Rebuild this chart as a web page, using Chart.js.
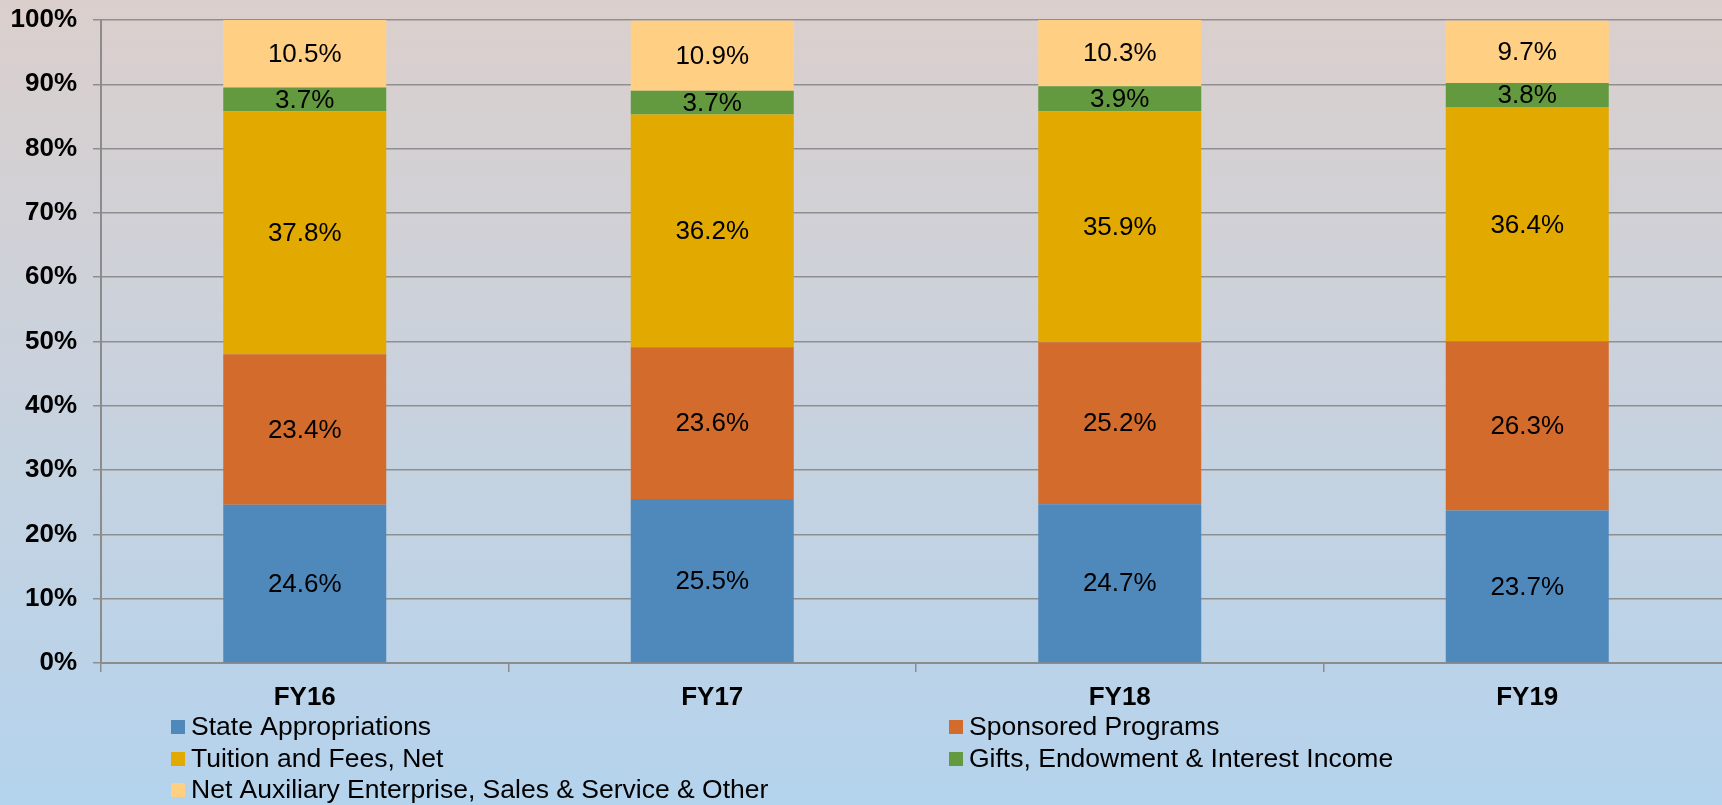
<!DOCTYPE html>
<html>
<head>
<meta charset="utf-8">
<script src="https://cdn.jsdelivr.net/npm/chart.js@4.4.1/dist/chart.umd.min.js"></script>
<style>
html,body{margin:0;padding:0;overflow:hidden;width:1722px;height:805px;background:#c8d3de;}
canvas{display:block;}
</style>
</head>
<body>
<canvas id="c" width="1731" height="805"></canvas>
<script>
const categories = ['FY16', 'FY17', 'FY18', 'FY19'];
const seriesNames = [
  'State Appropriations',
  'Sponsored Programs',
  'Tuition and Fees, Net',
  'Gifts, Endowment & Interest Income',
  'Net Auxiliary Enterprise, Sales & Service & Other'
];
const stateAppropriations = [24.6, 25.5, 24.7, 23.7];
const sponsoredPrograms   = [23.4, 23.6, 25.2, 26.3];
const tuitionFees         = [37.8, 36.2, 35.9, 36.4];
const giftsEndowment      = [3.7, 3.7, 3.9, 3.8];
const netAuxiliary        = [10.5, 10.9, 10.3, 9.7];
const yTickValues = [0, 10, 20, 30, 40, 50, 60, 70, 80, 90, 100];
const seriesColors = ['#4f88bb', '#d26b2b', '#e2a900', '#639a3f', '#ffd083'];

const FONT = '"Liberation Sans", Arial, sans-serif';

const bgPlugin = {
  id: 'bg',
  beforeDraw(chart) {
    const ctx = chart.ctx;
    const g = ctx.createLinearGradient(0, 0, 0, chart.height);
    g.addColorStop(0, '#dbcfcc');
    g.addColorStop(0.5, '#c8d2de');
    g.addColorStop(1, '#b4d3ed');
    ctx.save();
    ctx.fillStyle = g;
    ctx.fillRect(0, 0, chart.width, chart.height);
    ctx.restore();
  }
};

const labelPlugin = {
  id: 'barLabels',
  afterDatasetsDraw(chart) {
    const ctx = chart.ctx;
    ctx.save();
    ctx.font = '26px ' + FONT;
    ctx.fillStyle = '#000';
    ctx.textAlign = 'center';
    ctx.textBaseline = 'middle';
    chart.data.datasets.forEach((ds, di) => {
      const meta = chart.getDatasetMeta(di);
      meta.data.forEach((bar, i) => {
        const p = bar.getProps(['x', 'y', 'base'], true);
        ctx.fillText(ds.data[i].toFixed(1) + '%', p.x, (p.y + p.base) / 2 + 1);
      });
    });
    ctx.restore();
  }
};

const legendPlugin = {
  id: 'customLegend',
  afterDraw(chart) {
    const ctx = chart.ctx;
    const colX = [171, 949];
    const rowY = [727, 759, 790];
    ctx.save();
    ctx.font = '26.5px ' + FONT;
    ctx.textBaseline = 'middle';
    ctx.textAlign = 'left';
    chart.data.datasets.forEach((ds, i) => {
      const x = colX[i % 2];
      const y = rowY[Math.floor(i / 2)];
      ctx.fillStyle = ds.backgroundColor;
      ctx.fillRect(x, y - 7, 14, 14);
      ctx.fillStyle = '#000';
      ctx.fillText(ds.label, x + 20, y + 1);
    });
    ctx.restore();
  }
};

const seriesData = [stateAppropriations, sponsoredPrograms, tuitionFees, giftsEndowment, netAuxiliary];

new Chart(document.getElementById('c'), {
  type: 'bar',
  data: {
    labels: categories,
    datasets: seriesNames.map((name, i) => ({
      label: name,
      data: seriesData[i],
      backgroundColor: seriesColors[i],
      borderWidth: 0,
      categoryPercentage: 1.0,
      barPercentage: 0.4
    }))
  },
  options: {
    responsive: false,
    animation: false,
    devicePixelRatio: 1,
    layout: { padding: { top: 20, right: 0, left: 0, bottom: 0 } },
    plugins: {
      legend: { display: false },
      tooltip: { enabled: false },
      title: { display: false }
    },
    scales: {
      x: {
        stacked: true,
        grid: {
          display: true,
          drawOnChartArea: false,
          drawTicks: true,
          tickLength: 9,
          color: '#8c8c8c',
          lineWidth: 1.5,
          offset: true
        },
        border: { display: true, color: '#8c8c8c', width: 2 },
        ticks: {
          color: '#000',
          font: { family: FONT, size: 26, weight: 'bold' },
          padding: 10,
          maxRotation: 0
        },
        afterFit(scale) {
          scale.height = 142;
          scale.paddingLeft = 0;
          scale.paddingRight = 0;
        }
      },
      y: {
        stacked: true,
        min: 0,
        max: 100,
        afterBuildTicks(scale) { scale.ticks = yTickValues.map(v => ({ value: v })); },
        grid: {
          color: '#8f8f8f',
          lineWidth: 1.5,
          drawTicks: true,
          tickLength: 8
        },
        border: { display: true, color: '#8c8c8c', width: 2 },
        ticks: {
          color: '#000',
          font: { family: FONT, size: 26, weight: 'bold' },
          padding: 16,
          callback: v => v + '%'
        },
        afterFit(scale) {
          scale.width = 101;
          scale.paddingTop = 0;
          scale.paddingBottom = 0;
        }
      }
    }
  },
  plugins: [bgPlugin, labelPlugin, legendPlugin]
});
</script>
</body>
</html>
